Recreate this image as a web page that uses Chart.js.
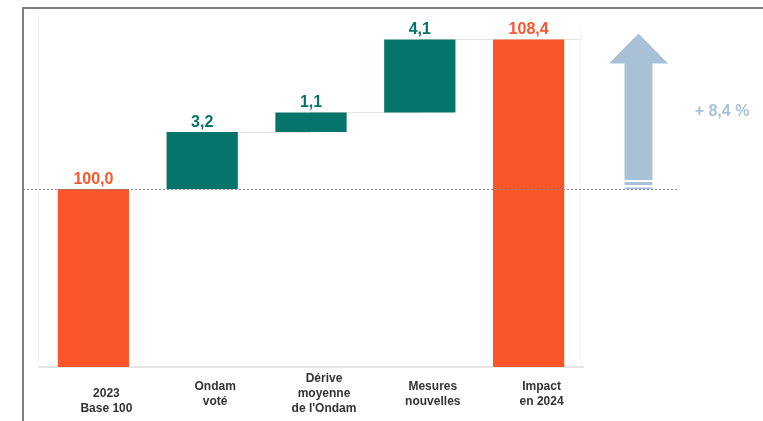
<!DOCTYPE html>
<html>
<head>
<meta charset="utf-8">
<script src="https://cdn.jsdelivr.net/npm/chart.js@4/dist/chart.umd.min.js"></script>
<style>
  html, body { margin: 0; padding: 0; background: #fff; }
  #wrap { width: 763px; height: 421px; position: relative; }
</style>
</head>
<body>
<div id="wrap"><canvas id="mycanvas"></canvas></div>
<script>
// data
var categories = [['', '2023', 'Base 100'], ['Ondam', 'voté'], ['Dérive', 'moyenne', "de l'Ondam"], ['Mesures', 'nouvelles'], ['Impact', 'en 2024']];
var values = [100, 3.2, 1.1, 4.1, 108.4];
var kinds = ['total', 'step', 'step', 'step', 'total'];
var axisMin = 90;
var axisMax = 110;

var ORANGE = '#fb562b';
var TEAL = '#05756b';
var ARROW = '#a8c1d5';
var FONT = '"Liberation Sans", Arial, sans-serif';

// build floating bars for the waterfall
var bars = [];
var running = 0;
for (var i in values) {
	if (kinds[i] === 'total') {
		bars.push([axisMin, values[i]]);
		running = values[i];
	} else {
		bars.push([running, running + values[i]]);
		running = running + values[i];
	}
}
var colors = kinds.map(function(k){ return k === 'total' ? ORANGE : TEAL; });

function fmt(v) { return v.toFixed(1).replace('.', ','); }

function hline(ctx, x1, x2, y) {
	ctx.beginPath(); ctx.moveTo(x1, y); ctx.lineTo(x2, y); ctx.stroke();
}

var extras = {
	id: 'extras',
	beforeDatasetsDraw: function(chart) {
		var ctx = chart.ctx, a = chart.chartArea, x = chart.scales.x, y = chart.scales.y;
		ctx.save();
		// faint side lines of the plot
		ctx.strokeStyle = '#f3f3f3';
		ctx.lineWidth = 1;
		ctx.beginPath();
		ctx.moveTo(a.left - 0.5, a.top); ctx.lineTo(a.left - 0.5, a.bottom);
		ctx.moveTo(a.right - 2.5, 30); ctx.lineTo(a.right - 2.5, a.bottom);
		ctx.stroke();
		// connectors between steps
		ctx.strokeStyle = '#e3e3e3';
		for (var i = 1; i < bars.length - 1; i++) {
			var yy = Math.round(y.getPixelForValue(bars[i][1])) + 0.5;
			var x2 = (i === bars.length - 2) ? a.right - 3 : x.getPixelForValue(i + 1);
			hline(ctx, x.getPixelForValue(i), x2, yy);
		}
		ctx.restore();
	},
	afterDatasetsDraw: function(chart) {
		var ctx = chart.ctx, a = chart.chartArea, x = chart.scales.x, y = chart.scales.y;
		ctx.save();
		// dotted base line at 2023 level
		var by = Math.round(y.getPixelForValue(values[0])) + 0.5;
		ctx.strokeStyle = '#8a8a8a';
		ctx.lineWidth = 1;
		ctx.setLineDash([2, 2]);
		hline(ctx, 23, a.right + 95, by);
		ctx.setLineDash([]);

		// value labels
		ctx.font = 'bold 16px ' + FONT;
		ctx.textAlign = 'center';
		ctx.textBaseline = 'alphabetic';
		for (var i = 0; i < bars.length; i++) {
			var top = Math.max(bars[i][0], bars[i][1]);
			ctx.fillStyle = colors[i];
			ctx.fillText(fmt(values[i]), x.getPixelForValue(i), y.getPixelForValue(top) - 5);
		}

		// arrow showing the total rise
		var last = values[values.length - 1];
		var cx = a.right + 55.5;
		var tip = y.getPixelForValue(last) - 6;
		var headBase = tip + 30;
		var shaftBottom = y.getPixelForValue(values[0]) - 9;
		ctx.fillStyle = ARROW;
		ctx.beginPath();
		ctx.moveTo(cx, tip);
		ctx.lineTo(cx + 29.5, headBase);
		ctx.lineTo(cx + 14, headBase);
		ctx.lineTo(cx + 14, shaftBottom);
		ctx.lineTo(cx - 14, shaftBottom);
		ctx.lineTo(cx - 14, headBase);
		ctx.lineTo(cx - 29.5, headBase);
		ctx.closePath();
		ctx.fill();
		ctx.fillRect(cx - 14, shaftBottom + 2, 28, 3);
		ctx.fillRect(cx - 14, shaftBottom + 7.5, 28, 1.5);

		// percentage label
		var pct = (last - values[0]) / values[0] * 100;
		ctx.font = 'bold 16px ' + FONT;
		ctx.textBaseline = 'middle';
		ctx.fillText('+ ' + fmt(pct) + ' %', a.right + 139, (tip + y.getPixelForValue(values[0])) / 2);
		ctx.restore();
	},
	afterDraw: function(chart) {
		var ctx = chart.ctx;
		ctx.save();
		ctx.strokeStyle = '#7f7f7f';
		ctx.lineWidth = 2;
		ctx.beginPath();
		ctx.moveTo(23, 421); ctx.lineTo(23, 8); ctx.lineTo(763, 8);
		ctx.stroke();
		ctx.restore();
	}
};

var ctx = document.getElementById('mycanvas');

var Waterfall = new Chart(ctx, {
	type: 'bar',
	data: {
		labels: categories,
		datasets: [
			{
				data: bars,
				backgroundColor: colors,
				borderWidth: 0,
				barPercentage: 0.655,
				categoryPercentage: 1.0
			}
		]
	},
	options: {
		responsive: true,
		maintainAspectRatio: false,
		animation: false,
		layout: { padding: { left: 39, right: 180, top: 11, bottom: 0 } },
		plugins: { legend: { display: false }, tooltip: { enabled: false } },
		scales: {
			x: {
				grid: { display: false, drawTicks: false },
				border: { display: true, color: '#e6e6e6', width: 2 },
				ticks: {
					color: '#333333',
					font: { family: FONT, size: 12, weight: 'bold', lineHeight: 1.25 },
					padding: 12,
					labelOffset: 13,
					maxRotation: 0,
					autoSkip: false,
					crossAlign: 'center'
				},
				afterFit: function(scale) { scale.height = 54; }
			},
			y: {
				display: false,
				min: axisMin,
				max: axisMax
			}
		}
	},
	plugins: [extras]
});
</script>
</body>
</html>
